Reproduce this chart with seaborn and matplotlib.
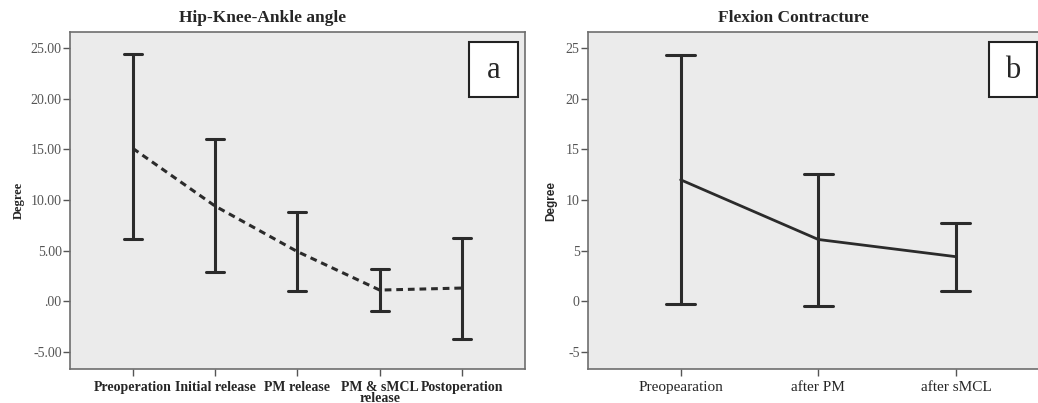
import numpy as np
import pandas as pd
import matplotlib
matplotlib.use("Agg")
import matplotlib.pyplot as plt
from matplotlib.patches import Rectangle
import seaborn as sns

# panel a: Hip-Knee-Ankle angle
hka_cats = ["Preoperation", "Initial release", "PM release", "PM & sMCL\nrelease", "Postoperation"]
hka_mean = [15.1, 9.4, 4.9, 1.1, 1.3]
hka_low = [6.1, 2.9, 1.05, -1.0, -3.7]
hka_high = [24.4, 16.0, 8.8, 3.2, 6.25]

# panel b: Flexion Contracture
fc_cats = ["Preopearation", "after PM", "after sMCL"]
fc_mean = [12.0, 6.1, 4.4]
fc_low = [-0.25, -0.45, 1.05]
fc_high = [24.3, 12.6, 7.7]

sns.set_style("white")
plt.rcParams['font.family'] = ['Liberation Serif', 'DejaVu Serif']

def long_table(cats, mean, low, high):
    # three rows per group, the median is the mean and min/max are the bar ends
    rows = []
    for c, m, lo, hi in zip(cats, mean, low, high):
        for v in (lo, m, hi):
            rows.append({"group": c, "val": v})
    return pd.DataFrame(rows)

fig = plt.figure(figsize=(10.38, 4.03), dpi=100)
ax1 = fig.add_axes([0.0674, 0.0844, 0.4383, 0.836])
ax2 = fig.add_axes([0.5665, 0.0844, 0.434, 0.836])

df1 = long_table(hka_cats, hka_mean, hka_low, hka_high)
sns.pointplot(data=df1, x="group", y="val", estimator="median", errorbar=("pi", 100),
              capsize=0.22, color="#2b2b2b", linestyle=(0, (2.2, 1.6)), marker="", linewidth=2.2,
              err_kws={"linewidth": 2.2, "linestyle": "-"}, ax=ax1)

df2 = long_table(fc_cats, fc_mean, fc_low, fc_high)
sns.pointplot(data=df2, x="group", y="val", estimator="median", errorbar=("pi", 100),
              capsize=0.21, color="#2b2b2b", linestyle="-", marker="", linewidth=2,
              err_kws={"linewidth": 2.2}, ax=ax2)

for ax in (ax1, ax2):
    ax.set_facecolor("#ebebeb")
    for s in ax.spines.values():
        s.set_color("#6e6e6e")
        s.set_linewidth(1.2)
    ax.set_ylim(-6.7, 26.6)
    ax.set_yticks([-5, 0, 5, 10, 15, 20, 25])
    ax.tick_params(axis="both", direction="out", length=5, width=1, color="#555555",
                   bottom=True, left=True)
    ax.tick_params(axis="y", labelsize=10, labelcolor="#555555", pad=1)
    ax.set_xlabel("")

ax1.set_xlim(-0.765, 4.765)
ax2.set_xlim(-0.673, 2.6)

ax1.set_yticklabels(["-5.00", ".00", "5.00", "10.00", "15.00", "20.00", "25.00"])
ax1.set_xticks(range(len(hka_cats)))
ax1.set_xticklabels(hka_cats, fontsize=10, fontweight="bold", linespacing=0.8)
ax1.set_ylabel("Degree", fontsize=9, fontweight="bold", labelpad=4)
ax1.set_title("Hip-Knee-Ankle angle", fontsize=12.5, fontweight="bold", pad=7, x=0.424)

ax2.set_yticklabels(["-5", "0", "5", "10", "15", "20", "25"])
ax2.set_xticks(range(len(fc_cats)))
ax2.set_xticklabels(fc_cats, fontsize=11)
ax2.set_ylabel("Degree", fontsize=8.5, fontweight="bold", family="Liberation Sans", labelpad=6)
ax2.set_title("Flexion Contracture", fontsize=12.5, fontweight="bold", pad=7, x=0.457)

for ax, letter, x0, x1 in ((ax1, "a", 0.877, 0.985), (ax2, "b", 0.889, 0.996)):
    ax.add_patch(Rectangle((x0, 0.807), x1 - x0, 0.163, transform=ax.transAxes,
                           facecolor="white", edgecolor="#222222", linewidth=1.5, zorder=5))
    ax.text((x0 + x1) / 2, 0.885, letter, transform=ax.transAxes, fontsize=22,
            ha="center", va="center", zorder=6)

fig.savefig("out.png", dpi=100)
